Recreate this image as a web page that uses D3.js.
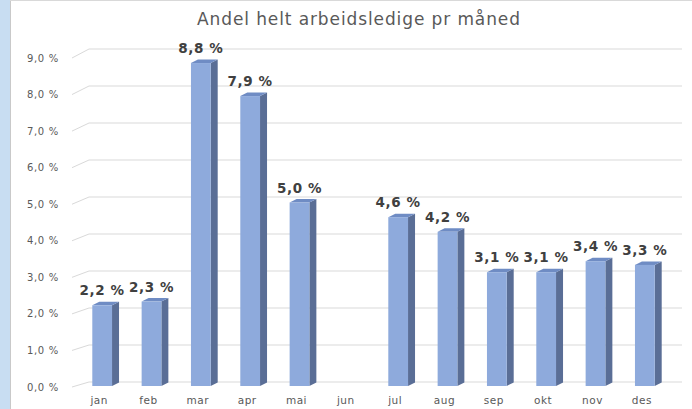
<!DOCTYPE html>
<html>
<head>
<meta charset="utf-8">
<script src="https://cdn.jsdelivr.net/npm/d3@7/dist/d3.min.js"></script>
<style>
  html, body { margin: 0; padding: 0; background: #ffffff; }
  svg { display: block; }
</style>
</head>
<body>
<div id="chart"></div>
<script>
// Data
const months = ["jan", "feb", "mar", "apr", "mai", "jun", "jul", "aug", "sep", "okt", "nov", "des"];
const shares = [2.2, 2.3, 8.8, 7.9, 5.0, null, 4.6, 4.2, 3.1, 3.1, 3.4, 3.3];
const tickValues = [0, 1, 2, 3, 4, 5, 6, 7, 8, 9];
const title = "Andel helt arbeidsledige pr måned";

const W = 692, H = 409;
const fmt = v => v.toFixed(1).replace(".", ",") + " %";

const svg = d3.select("#chart")
  .append("svg")
    .attr("width", W)
    .attr("height", H);

// outer frame: light blue strip on left, grey border
svg.append("rect").attr("x", 0).attr("y", 0).attr("width", W).attr("height", H).attr("fill", "#ffffff");
svg.append("rect").attr("x", 0).attr("y", 0).attr("width", 10).attr("height", H).attr("fill", "#c8ddf2");
svg.append("line").attr("x1", 10.5).attr("x2", 10.5).attr("y1", 0).attr("y2", H)
  .attr("stroke", "#c9c9c9").attr("stroke-width", 1);
svg.append("line").attr("x1", 10).attr("x2", W).attr("y1", 0.5).attr("y2", 0.5)
  .attr("stroke", "#d9d9d9").attr("stroke-width", 1);

// Scales
const x = d3.scaleBand()
  .domain(months)
  .range([77.5, 669.5])
  .paddingInner(0.6)
  .paddingOuter(0.3);

// front edge of the wall (labels) and back wall (gridlines)
const yFront = d3.scaleLinear().domain([0, 9]).range([387, 58]);
const yBack = d3.scaleLinear().domain([0, 9]).range([382, 49]);
// bars
const yBar = d3.scaleLinear().domain([0, 9]).range([386, 55.7]);

const depthX = 7, depthY = -3.5;
const gridLeft = 72, wallLeft = 89, wallRight = 682;

// Gridlines (3D wall)
const grid = svg.append("g").attr("class", "grid");
grid.selectAll("path")
  .data(tickValues)
  .join("path")
    .attr("d", d => `M${gridLeft},${yFront(d)} L${wallLeft},${yBack(d)} L${wallRight},${yBack(d)}`)
    .attr("fill", "none")
    .attr("stroke", "#d9d9d9")
    .attr("stroke-width", 1);

// Y labels
svg.append("g")
  .selectAll("text")
  .data(tickValues)
  .join("text")
    .attr("x", 59)
    .attr("y", d => yFront(d) + 3.5)
    .attr("text-anchor", "end")
    .style("font-family", "DejaVu Sans")
    .style("font-size", "10px")
    .style("letter-spacing", "0.7px")
    .attr("fill", "#595959")
    .text(fmt);

// X labels
svg.append("g")
  .selectAll("text")
  .data(months)
  .join("text")
    .attr("x", d => x(d) + x.bandwidth() / 2 - 3)
    .attr("y", 404)
    .attr("text-anchor", "middle")
    .style("font-family", "DejaVu Sans")
    .style("font-size", "10.5px")
    .style("letter-spacing", "0.5px")
    .attr("fill", "#595959")
    .text(d => d);

// Bars
const barData = months.map((m, i) => ({ month: m, value: shares[i] })).filter(d => d.value != null);
const bars = svg.append("g").attr("class", "bars")
  .selectAll("g")
  .data(barData)
  .join("g");

bars.append("path")
  .attr("d", d => {
    const x1 = x(d.month) + x.bandwidth(), yt = yBar(d.value), yb = yBar(0);
    return `M${x1},${yt} L${x1 + depthX},${yt + depthY} L${x1 + depthX},${yb + depthY} L${x1},${yb} Z`;
  })
  .attr("fill", "#5a6e96");

bars.append("path")
  .attr("d", d => {
    const x0 = x(d.month), x1 = x0 + x.bandwidth(), yt = yBar(d.value);
    return `M${x0},${yt} L${x0 + depthX},${yt + depthY} L${x1 + depthX},${yt + depthY} L${x1},${yt} Z`;
  })
  .attr("fill", "#6f8cc4");

bars.append("rect")
  .attr("x", d => x(d.month))
  .attr("y", d => yBar(d.value))
  .attr("width", x.bandwidth())
  .attr("height", d => yBar(0) - yBar(d.value))
  .attr("fill", "#8eaadc");

// Data labels
bars.append("text")
  .attr("x", d => x(d.month) + x.bandwidth() / 2)
  .attr("y", d => yBar(d.value) - 10)
  .attr("text-anchor", "middle")
  .style("font-family", "DejaVu Sans")
  .style("font-size", "13.5px")
  .style("font-weight", "bold")
  .style("letter-spacing", "0.6px")
  .attr("fill", "#404040")
  .text(d => fmt(d.value));

// Title
svg.append("text")
  .attr("x", 358.5)
  .attr("y", 25)
  .attr("text-anchor", "middle")
  .attr("textLength", 323)
  .attr("lengthAdjust", "spacing")
  .style("font-family", "DejaVu Sans")
  .style("font-size", "17px")
  .attr("fill", "#595959")
  .text(title);
</script>
</body>
</html>
